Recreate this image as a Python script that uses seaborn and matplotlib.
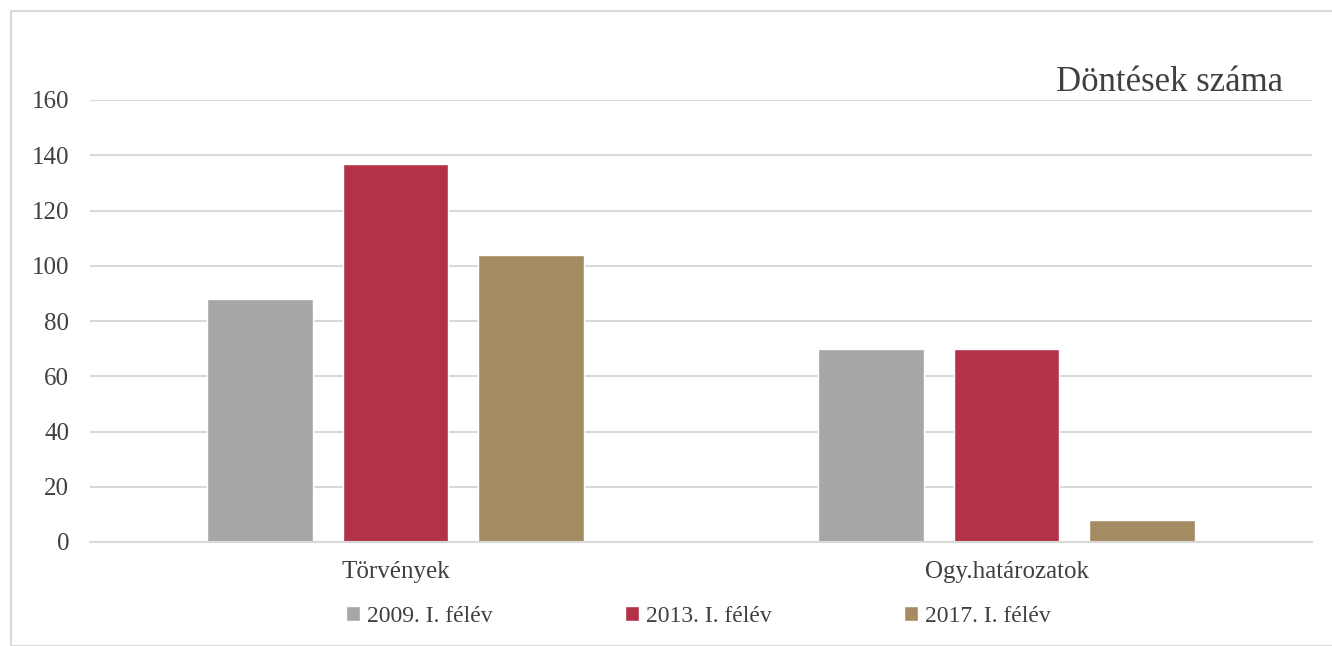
import pandas as pd
import seaborn as sns
import matplotlib.pyplot as plt
from matplotlib.patches import Rectangle

categories = ["Törvények", "Ogy.határozatok"]
periods = ["2009. I. félév", "2013. I. félév", "2017. I. félév"]
values_2009 = [88, 70]
values_2013 = [137, 70]
values_2017 = [104, 8]
colors = ["#A6A6A6", "#B33247", "#A48C62"]


def build_frame():
    rows = []
    for period, vals in zip(periods, [values_2009, values_2013, values_2017]):
        for cat, v in zip(categories, vals):
            rows.append({"category": cat, "period": period, "value": v})
    return pd.DataFrame(rows)


def main():
    sns.set_theme(style="white")
    plt.rcParams["font.family"] = ["Liberation Serif", "DejaVu Serif"]
    text_color = "#404040"

    df = build_frame()
    fig = plt.figure(figsize=(13.32, 6.46), dpi=100)
    ax = fig.add_axes([90 / 1332, 1 - 542 / 646, 1222 / 1332, 442 / 646])

    sns.barplot(data=df, x="category", y="value", hue="period",
                palette=colors, width=0.666, gap=0.22, ax=ax,
                saturation=1, legend=True)

    ax.set_ylim(0, 160)
    ax.set_xlim(-0.5, 1.5)
    ax.set_yticks(range(0, 161, 20))
    ax.yaxis.grid(True, color="#D9D9D9", linewidth=1.5)
    ax.set_axisbelow(True)
    for side in ["top", "right", "left"]:
        ax.spines[side].set_visible(False)
    ax.spines["bottom"].set_color("#D9D9D9")
    ax.spines["bottom"].set_linewidth(1.5)
    ax.tick_params(axis="both", length=0, colors=text_color)
    ax.tick_params(axis="y", pad=15, labelsize=18)
    ax.tick_params(axis="x", pad=14, labelsize=18)
    ax.set_xlabel("")
    ax.set_ylabel("")

    ax.text(0.976, 1.003, "Döntések száma", transform=ax.transAxes,
            ha="right", va="bottom", fontsize=25, color=text_color)

    ax.legend(loc="upper center", bbox_to_anchor=(0.498, -0.097),
              ncol=3, frameon=False, fontsize=17, handlelength=0.6,
              handleheight=0.6, handletextpad=0.3, columnspacing=5.6,
              labelcolor=text_color)

    fig.patches.append(Rectangle((11 / 1332, 0), 1330 / 1332, 1 - 11 / 646,
                                 transform=fig.transFigure, fill=False,
                                 edgecolor="#D9D9D9", linewidth=1.5))

    fig.savefig("out.png", dpi=100)


if __name__ == '__main__':
    main()
